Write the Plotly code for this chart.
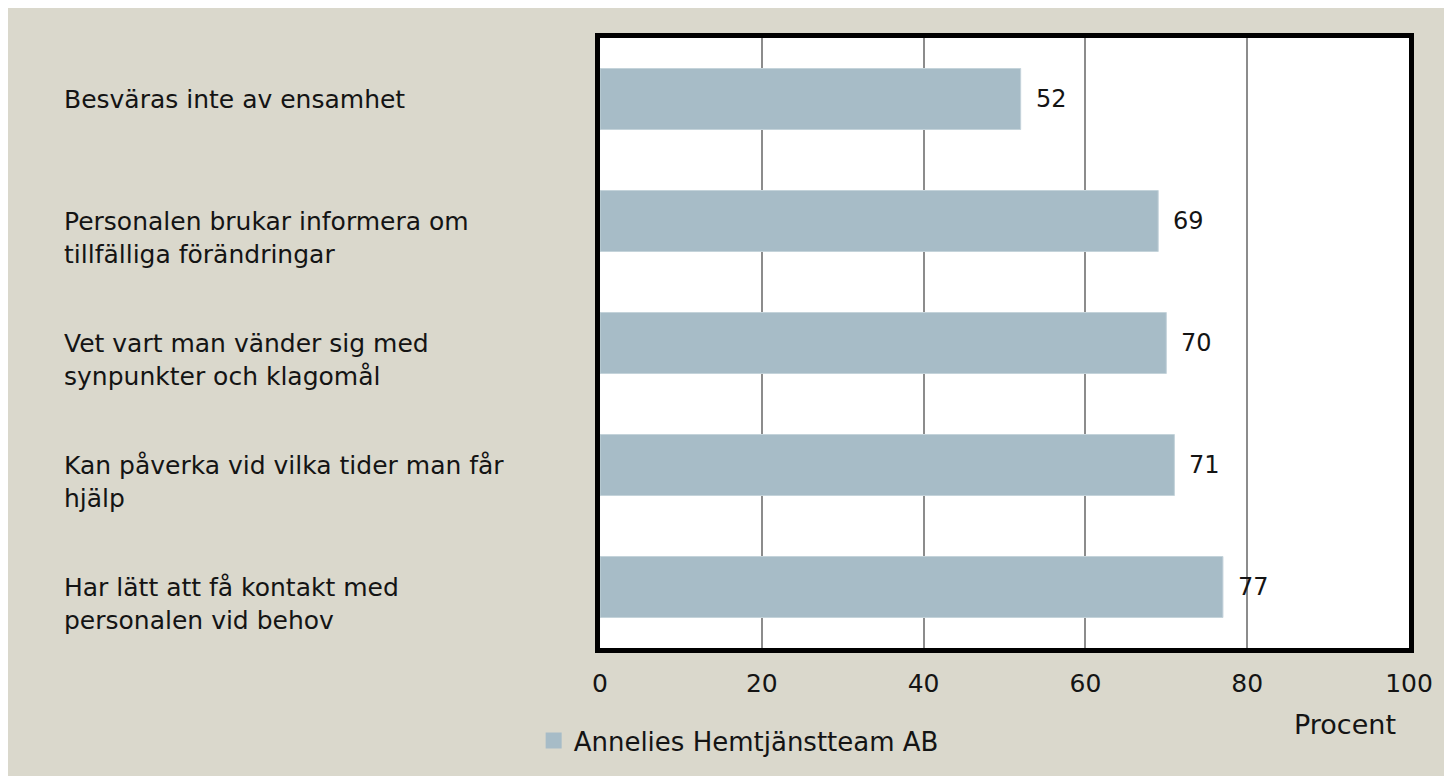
import plotly.graph_objects as go

categories = [
    "Besväras inte av ensamhet",
    "Personalen brukar informera om<br>tillfälliga förändringar",
    "Vet vart man vänder sig med<br>synpunkter och klagomål",
    "Kan påverka vid vilka tider man får<br>hjälp",
    "Har lätt att få kontakt med<br>personalen vid behov",
]
values = [52, 69, 70, 71, 77]
series_name = "Annelies Hemtjänstteam AB"
x_ticks = [0, 20, 40, 60, 80, 100]
x_title = "Procent"

FONT = "Century Gothic, DejaVu Sans, sans-serif"
BG = "#dad8cc"
BAR = "#a7bcc7"
TXT = "#141414"

fig = go.Figure()
fig.add_trace(go.Bar(
    y=categories, x=values, orientation="h", name=series_name,
    marker=dict(color=BAR, line=dict(color="#c4d3da", width=1)),
    showlegend=False, hoverinfo="x+y",
))
# legend proxy with a larger square swatch
fig.add_trace(go.Scatter(
    x=[None], y=[None], mode="markers", name=series_name,
    marker=dict(symbol="square", size=16, color=BAR),
    showlegend=True, hoverinfo="skip",
))

annotations = []
for c, v in zip(categories, values):
    annotations.append(dict(
        x=v, y=c, xref="x", yref="y", text=str(v), showarrow=False,
        xanchor="left", yanchor="middle", xshift=13,
        font=dict(family=FONT, size=24, color=TXT),
    ))
    annotations.append(dict(
        x=-0.665, y=c, xref="paper", yref="y", text=c, showarrow=False,
        xanchor="left", yanchor="top", align="left", yshift=16,
        font=dict(family=FONT, size=25, color=TXT),
    ))
annotations.append(dict(
    x=0.921, y=-0.125, xref="paper", yref="paper", text=x_title,
    showarrow=False, xanchor="center", yanchor="middle",
    font=dict(family=FONT, size=27, color=TXT),
))

fig.update_layout(
    width=1444, height=768,
    paper_bgcolor=BG, plot_bgcolor="white",
    margin=dict(l=592, r=43, t=30, b=128),
    bargap=0.5,
    font=dict(family=FONT, size=24, color=TXT),
    annotations=annotations,
    legend=dict(orientation="h", x=-0.082, y=-0.152, xanchor="left",
                yanchor="middle", bgcolor="rgba(0,0,0,0)",
                font=dict(family=FONT, size=26, color=TXT)),
    xaxis=dict(range=[0, 100], tickvals=x_ticks, showgrid=True,
               gridcolor="#8c8c8c", gridwidth=1.5, showline=True,
               linecolor="black", linewidth=5, mirror=True,
               ticks="outside", ticklen=9, tickcolor="rgba(0,0,0,0)",
               zeroline=False, tickfont=dict(family=FONT, size=25)),
    yaxis=dict(autorange="reversed", showticklabels=False, showgrid=False,
               showline=True, linecolor="black", linewidth=5, mirror=True,
               ticks=""),
)

fig.write_html("out.html")
